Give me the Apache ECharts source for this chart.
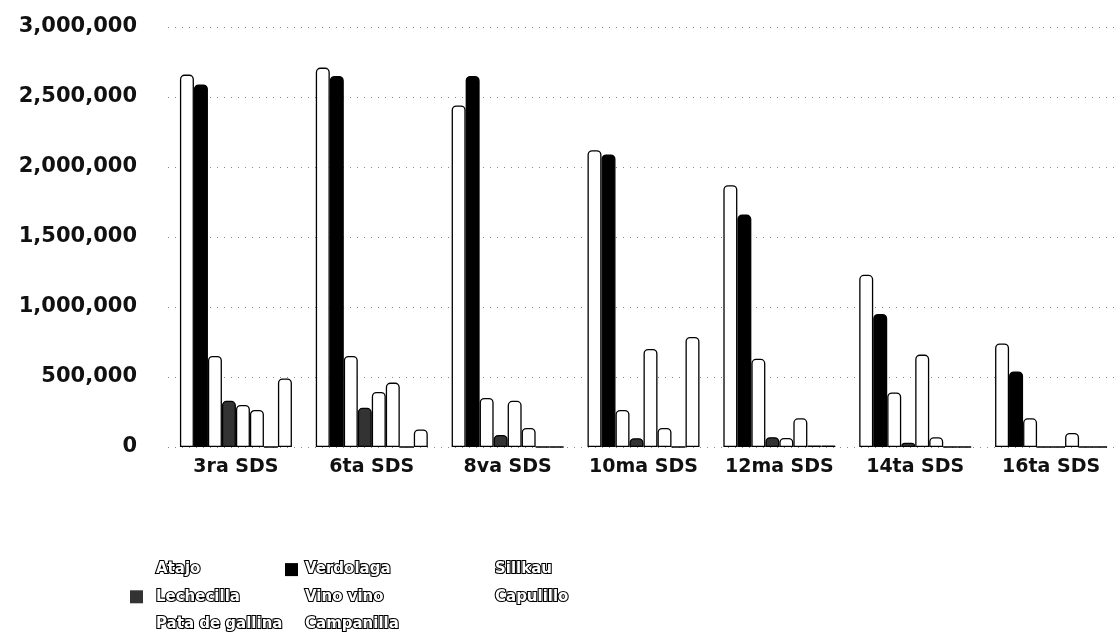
<!DOCTYPE html>
<html>
<head>
<meta charset="utf-8">
<script src="https://cdn.jsdelivr.net/npm/echarts@6/dist/echarts.min.js"></script>
<style>
html,body{margin:0;padding:0;background:#fff;}
#chart{width:1119px;height:633px;}
</style>
</head>
<body>
<div id="chart"></div>
<script>
const categories = ['3ra SDS','6ta SDS','8va SDS','10ma SDS','12ma SDS','14ta SDS','16ta SDS'];
const atajo      = [2660000, 2710000, 2440000, 2120000, 1870000, 1230000, 740000];
const verdolaga  = [2590000, 2650000, 2650000, 2090000, 1660000, 950000, 540000];
const sillkau    = [650000, 650000, 350000, 265000, 630000, 390000, 205000];
const lechecilla = [330000, 280000, 86000, 63000, 70000, 30000, 0];
const vinoVino   = [300000, 393000, 330000, 700000, 65000, 660000, 0];
const capulillo  = [265000, 460000, 136000, 136000, 205000, 70000, 100000];
const pataGallina= [0, 0, 0, 0, 10000, 0, 0];
const campanilla = [490000, 125000, 0, 786000, 10000, 0, 0];
const yTicks = [0, 500000, 1000000, 1500000, 2000000, 2500000, 3000000];

const seriesDefs = [
  {name:'Atajo', data:atajo, fill:'#ffffff'},
  {name:'Verdolaga', data:verdolaga, fill:'#000000'},
  {name:'Sillkau', data:sillkau, fill:'#ffffff'},
  {name:'Lechecilla', data:lechecilla, fill:'#333333'},
  {name:'Vino vino', data:vinoVino, fill:'#ffffff'},
  {name:'Capulillo', data:capulillo, fill:'#ffffff'},
  {name:'Pata de gallina', data:pataGallina, fill:'#ffffff'},
  {name:'Campanilla', data:campanilla, fill:'#ffffff'}
];

const chart = echarts.init(document.getElementById('chart'), null, {renderer:'canvas'});
const legendText = {
  fontFamily:'DejaVu Sans', fontWeight:'bold', fontSize:15, lineHeight:16,
  color:'#ffffff', textBorderColor:'#000000', textBorderWidth:2.2
};
function mkLegend(names, left, pad){
  return {
    data:names, orient:'vertical', left:left, top:561, height:120,
    padding:0,
    itemWidth:13, itemHeight:13, itemGap:10, icon:'rect',
    itemStyle:{borderWidth:0},
    textStyle:Object.assign({padding:[0,0,0,pad]}, legendText),
    selectedMode:false
  };
}
const fmt = v => v.toLocaleString('en-US');
chart.setOption({
  animation:false,
  backgroundColor:'#ffffff',
  grid:{left:168, right:-8, top:27, bottom:186, containLabel:false},
  legend:[
    mkLegend(['Atajo','Lechecilla','Pata de gallina'], 130, 8),
    mkLegend(['Verdolaga','Vino vino','Campanilla'], 285, 2),
    mkLegend(['Sillkau','Capulillo'], 475, 2)
  ],
  xAxis:{
    type:'category', data:categories,
    axisLine:{show:false}, axisTick:{show:false},
    axisLabel:{interval:0, hideOverlap:false, margin:11, color:'#111', fontFamily:'DejaVu Sans', fontWeight:'bold', fontSize:19}
  },
  yAxis:{
    type:'value', min:yTicks[0], max:yTicks[yTicks.length-1], interval:500000,
    axisLine:{show:false}, axisTick:{show:false},
    axisLabel:{margin:31, color:'#111', fontFamily:'DejaVu Sans', fontWeight:'bold', fontSize:21, formatter:fmt},
    splitLine:{lineStyle:{type:[1,6], color:'#888', width:1}}
  },
  series: seriesDefs.map((s) => ({
    name:s.name, type:'bar', data:s.data,
    barWidth:14, barGap:'0%',
    itemStyle:{color:s.fill, borderColor:'#000', borderWidth:1.3, borderRadius:[4,4,0,0]}
  }))
});
</script>
</body>
</html>
